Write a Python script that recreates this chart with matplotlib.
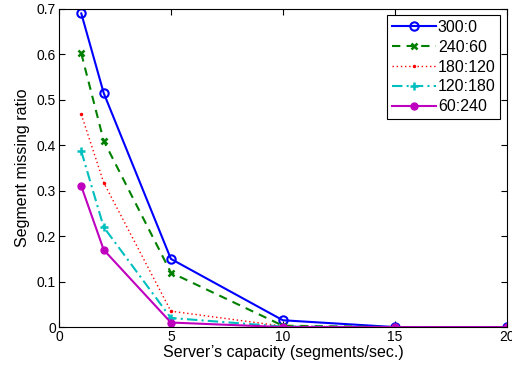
import matplotlib
matplotlib.use("Agg")
import matplotlib.pyplot as plt

plt.rcParams['font.family'] = ['Liberation Sans', 'DejaVu Sans']

x = [1, 2, 5, 10, 15, 20]
labels = ["300:0", "240:60", "180:120", "120:180", "60:240"]
s300 = [0.69, 0.515, 0.15, 0.015, 0.0, 0.0]
s240 = [0.602, 0.41, 0.12, 0.003, 0.0, 0.0]
s180 = [0.468, 0.318, 0.035, 0.002, 0.0, 0.0]
s120 = [0.387, 0.22, 0.02, 0.001, 0.0, 0.0]
s60 = [0.31, 0.17, 0.01, 0.0, 0.0, 0.0]

fig = plt.figure(figsize=(5.12, 3.7), dpi=100)
ax = fig.add_axes([0.115, 0.116, 0.875, 0.86])

ax.plot(x, s300, color='#0000ff', lw=1.5, marker='o', ms=6, mfc='none', mew=1.5, label=labels[0])
ax.plot(x, s240, color='#008000', lw=1.5, ls=(0, (4, 3)), marker='x', ms=4, mew=1.8, label=labels[1])
ax.plot(x, s180, color='#ff0000', lw=1.0, ls=(0, (1, 2)), marker='.', ms=3, label=labels[2])
ax.plot(x, s120, color='#00bfbf', lw=1.5, ls=(0, (5, 2, 1, 2)), marker='+', ms=6, mew=1.8, label=labels[3])
ax.plot(x, s60, color='#bf00bf', lw=1.5, marker='o', ms=5, label=labels[4])

ax.set_xlim(0, 20)
ax.set_ylim(0, 0.7)
ax.set_xticks([0, 5, 10, 15, 20])
ax.set_xticklabels(['0', '5', '10', '15', '20'])
ax.set_yticks([0, 0.1, 0.2, 0.3, 0.4, 0.5, 0.6, 0.7])
ax.set_yticklabels(['0', '0.1', '0.2', '0.3', '0.4', '0.5', '0.6', '0.7'])
ax.tick_params(direction='in', top=True, right=True, labelsize=10, length=4, pad=2)
for sp in ax.spines.values():
    sp.set_linewidth(0.8)
ax.set_xlabel("Server\u2019s capacity (segments/sec.)", fontsize=11.5, labelpad=1)
ax.set_ylabel("Segment missing ratio", fontsize=11.5, labelpad=5)

leg = ax.legend(loc='upper right', fontsize=11.5, fancybox=False, edgecolor='black',
                framealpha=1, handlelength=2.8, handletextpad=0.1, borderpad=0.3,
                labelspacing=0.3, borderaxespad=0.4)
leg.get_frame().set_linewidth(0.8)

fig.savefig('out.png', dpi=100)
